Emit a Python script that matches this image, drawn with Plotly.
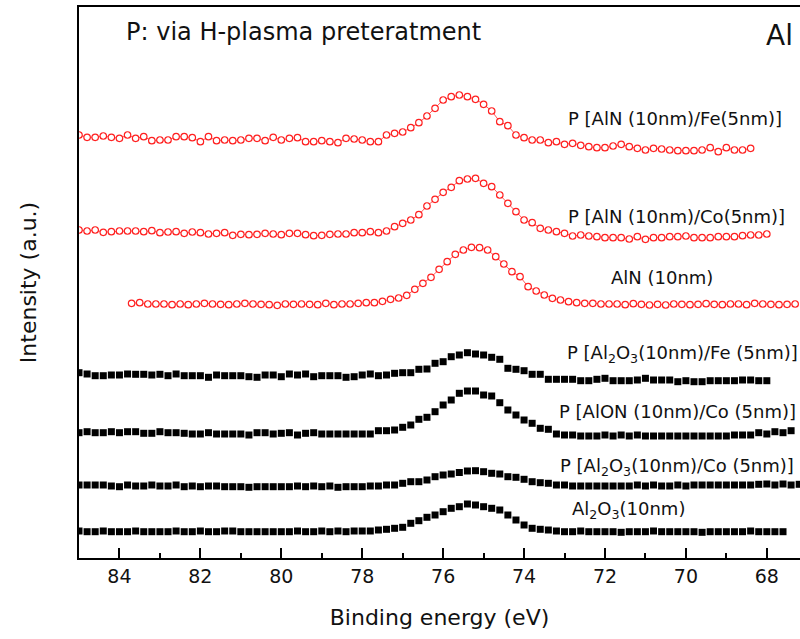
import plotly.graph_objects as go

# ---------------- data (binding energy grid start, step 0.2 eV) ----------------
step_ev = 0.2

start_red_fe = 85.0
red_fe = [423, 420.7, 420.7, 422, 420.7, 419.7, 423, 419.7, 421.3, 417.3,
          418, 418, 421.3, 421.3, 420.3, 416.3, 421.3, 417.3, 418, 417.3,
          418, 419.7, 419.7, 417.3, 420.7, 418, 419.7, 420.3, 416.3, 416.3,
          417.3, 416.3, 415.3, 419.7, 419, 418, 416.3, 416.3, 423, 424.7,
          426, 430.3, 435.3, 442, 449.7, 458, 461.3, 463, 461.3, 458.7,
          453.7, 447, 436.3, 432.3, 423, 420.3, 418, 418, 415.3, 416.3,
          413.7, 414.7, 412.7, 411.3, 410.3, 410.3, 412, 413.7, 411.3, 409.7,
          408, 409.7, 409, 408, 407.3, 407.3, 407.3, 408, 410.3, 406.3,
          410.3, 408, 408, 409.7]

start_red_co = 85.0
red_co = [328, 327, 328, 325.7, 326.3, 327, 327, 327, 326.3, 327.3,
          325.3, 326, 326.3, 324.7, 326, 325.3, 324, 324.7, 325.3, 322.7,
          323.7, 323.3, 323.7, 324.7, 324, 323.3, 324.7, 324.7, 323.3, 322.3,
          322.7, 323.7, 324, 324, 325.3, 325.3, 326.3, 325.3, 327, 331.3,
          334.7, 338, 343.3, 352, 358.7, 365.7, 370.7, 377.3, 379, 379.7,
          374.7, 371.3, 363, 354.7, 346.3, 338, 335.3, 329.7, 328, 326.3,
          324.7, 322, 323, 322, 321.3, 320.3, 320.3, 320.3, 319, 321.3,
          318.7, 320.3, 320.3, 321.3, 321.3, 322, 320.3, 320.3, 320.3, 321.3,
          321.3, 321.3, 322.3, 323, 323, 324]

start_aln = 83.7
aln = [254.7, 255.3, 254, 254, 254, 253.3, 254, 253.3, 254, 254.7,
       254, 253.7, 253.3, 254, 254.7, 254, 253.7, 253.3, 252.7, 254,
       253.7, 254, 253.7, 253.3, 254.7, 253.3, 254, 254, 254.7, 255.3,
       255.3, 256.7, 258.7, 260, 262.7, 268.7, 274.7, 280.7, 288.7, 296.3,
       303.7, 308, 310.7, 310.3, 308, 301.3, 294, 286.3, 281.3, 271.3,
       267, 263, 259.7, 258, 256.3, 255.3, 254.7, 254.7, 254, 254,
       254, 253.3, 254.3, 253.7, 253, 253.7, 253, 254, 253.7, 253.3,
       253.7, 254.3, 253.7, 253.3, 254, 254, 253.3, 254.7, 254, 253.7,
       253.3, 253.7, 254]

start_fe_black = 85.0
fe_black = [185.3, 184, 182.3, 182.3, 183, 183, 184, 183.7, 183.7, 183,
            183.7, 182.3, 184, 182.3, 182.3, 182.3, 180.7, 183, 182.3, 182.3,
            182.3, 181.3, 180.7, 183, 183, 181.3, 184, 183, 184, 181.3,
            182.3, 182.3, 182.3, 180.7, 181.3, 183, 184, 182.3, 183, 184.7,
            185.3, 185.3, 188.7, 189, 194.7, 196.3, 201.3, 203, 205.3, 204,
            203, 200.7, 198.7, 189.7, 188.7, 187.3, 183.7, 183.7, 178.7, 178.7,
            178.7, 178.7, 177.3, 177.3, 178.7, 179.7, 177.3, 177.3, 177.3, 178,
            179.7, 178, 178, 178, 176.3, 177.3, 176.3, 176.3, 177.3, 177.3,
            177.3, 177.3, 178, 178, 177.3, 177.3]

start_alon = 85.0
alon = [125.3, 126.3, 125.3, 125.3, 126.3, 125.3, 126.3, 126.3, 124.7, 124.7,
        126.3, 125.3, 125.3, 124.7, 124, 124, 125.3, 124, 124, 124,
        124, 123, 125.3, 125.3, 124, 124.7, 125.3, 123, 124.7, 125.3,
        124, 124, 124, 124, 124, 124, 124, 127.3, 127.3, 128,
        130.7, 133, 138.7, 140.7, 146.3, 153, 158, 164.7, 167, 167,
        163, 162, 155.3, 148, 143, 138, 134.7, 129.7, 128.7, 124,
        123, 123, 122, 122, 122, 123, 122, 123, 122, 123,
        122, 122, 122, 122, 122, 122, 122, 122, 122, 122,
        122, 123, 123, 123, 125.3, 124, 126.3, 125.3, 127.3]

start_al2o3_co = 85.0
al2o3_co = [73, 73, 73, 73, 72, 71.3, 73, 72, 72, 73,
            72, 72, 73, 71.3, 72, 71.3, 72, 72, 71.3, 71.3,
            71.3, 70.7, 71.3, 71.3, 71.3, 71.3, 71.3, 72, 71.3, 72,
            71.3, 72, 70.7, 71.3, 71.3, 71.3, 72, 72, 73, 73,
            74.7, 76.3, 76.3, 78, 81.3, 83, 84, 85.5, 87, 87.3,
            86.3, 84.7, 84, 81.3, 80.7, 78.7, 76.3, 75.3, 74.7, 73,
            73, 72, 72, 72, 72, 72, 72, 72, 72, 73,
            72, 73, 72, 72, 73, 72, 73, 73, 73, 73,
            73, 73, 73, 73, 73.7, 74, 73, 74, 73, 73.7]

start_al2o3 = 85.0
al2o3 = [27, 26.3, 26.3, 27, 26.3, 26.3, 26.3, 27, 26.3, 26.3,
         26.3, 26.3, 27, 26.3, 26.3, 27, 26.3, 26.3, 27, 27,
         26.3, 26.3, 26.3, 26.3, 26.3, 26.3, 26.3, 27, 26.3, 26.3,
         27, 26.3, 27, 26.3, 27, 27, 27, 28, 28.7, 29.7,
         30.7, 34.7, 37.3, 40.7, 43, 46.3, 49.7, 51.3, 54, 53,
         51.3, 49.7, 48, 43, 38, 33, 29.7, 28.7, 28, 27,
         26.3, 26.3, 27, 26.3, 26.3, 26.3, 26.3, 25.7, 26.3, 26.3,
         26.3, 27, 26.3, 26.3, 26.3, 26.3, 26.3, 25.7, 26.3, 26.3,
         26.3, 26.3, 26.3, 27, 26.3, 26.3, 26.3, 26.3]

# labels: (text, x in eV, y in a.u.)
labels = [
    ("P [AlN (10nm)/Fe(5nm)]", 70.27, 440),
    ("P [AlN (10nm)/Co(5nm)]", 70.24, 342),
    ("AlN (10nm)", 70.59, 281),
    ("P [Al<sub>2</sub>O<sub>3</sub>(10nm)/Fe (5nm)]", 70.09, 204),
    ("P [AlON (10nm)/Co (5nm)]", 70.22, 147),
    ("P [Al<sub>2</sub>O<sub>3</sub>(10nm)/Co (5nm)]", 70.22, 91),
    ("Al<sub>2</sub>O<sub>3</sub>(10nm)", 71.43, 48),
]
title_text = "P: via H-plasma preteratment"
element_text = "Al"
x_ticks = [84, 82, 80, 78, 76, 74, 72, 70, 68]


def grid(start, n):
    return [round(start - step_ev * i, 3) for i in range(n)]


FONT = "DejaVu Sans"
fig = go.Figure()

red_series = [(start_red_fe, red_fe), (start_red_co, red_co), (start_aln, aln)]
for s, ys in red_series:
    fig.add_trace(go.Scatter(
        x=grid(s, len(ys)), y=ys, mode="lines+markers",
        line=dict(color="#ff3030", width=0.8),
        marker=dict(symbol="circle", size=6.5, color="white",
                    line=dict(color="#ff2020", width=1.2)),
        showlegend=False))

black_series = [(start_fe_black, fe_black), (start_alon, alon),
                (start_al2o3_co, al2o3_co), (start_al2o3, al2o3)]
for s, ys in black_series:
    fig.add_trace(go.Scatter(
        x=grid(s, len(ys)), y=ys, mode="markers",
        marker=dict(symbol="square", size=7, color="black", line=dict(width=0)),
        showlegend=False))

for text, xv, yv in labels:
    fig.add_annotation(x=xv, y=yv, xref="x", yref="y", text=text,
                       showarrow=False, xanchor="center", yanchor="middle",
                       font=dict(family=FONT, size=18, color="#111"))

fig.add_annotation(x=79.44, y=526, xref="x", yref="y", text=title_text,
                   showarrow=False, xanchor="center", yanchor="middle",
                   font=dict(family=FONT, size=24, color="#111"))
fig.add_annotation(x=67.68, y=523, xref="x", yref="y", text=element_text,
                   showarrow=False, xanchor="center", yanchor="middle",
                   font=dict(family=FONT, size=28, color="#111"))

fig.update_layout(
    width=800, height=639,
    margin=dict(l=79, r=0, t=7, b=81),
    paper_bgcolor="white", plot_bgcolor="white",
    font=dict(family=FONT, color="#111"),
)
fig.update_xaxes(
    range=[85, 67.18], tickvals=x_ticks, ticktext=[str(t) for t in x_ticks],
    ticks="inside", ticklen=10, tickwidth=1.5, tickcolor="black",
    minor=dict(ticks="inside", ticklen=5, tickwidth=1.5, tickcolor="black", dtick=1, tick0=85),
    showline=True, linecolor="black", linewidth=2, mirror=True,
    showgrid=False, zeroline=False,
    tickfont=dict(family=FONT, size=19, color="#111"),
    title=dict(text="Binding energy (eV)", font=dict(family=FONT, size=22, color="#111"), standoff=24),
)
fig.update_yaxes(
    range=[0, 551], showticklabels=False, ticks="",
    showline=True, linecolor="black", linewidth=2, mirror=False,
    showgrid=False, zeroline=False,
    title=dict(text="Intensity (a.u.)", font=dict(family=FONT, size=22, color="#111"), standoff=34),
)

fig.write_html("out.html")
